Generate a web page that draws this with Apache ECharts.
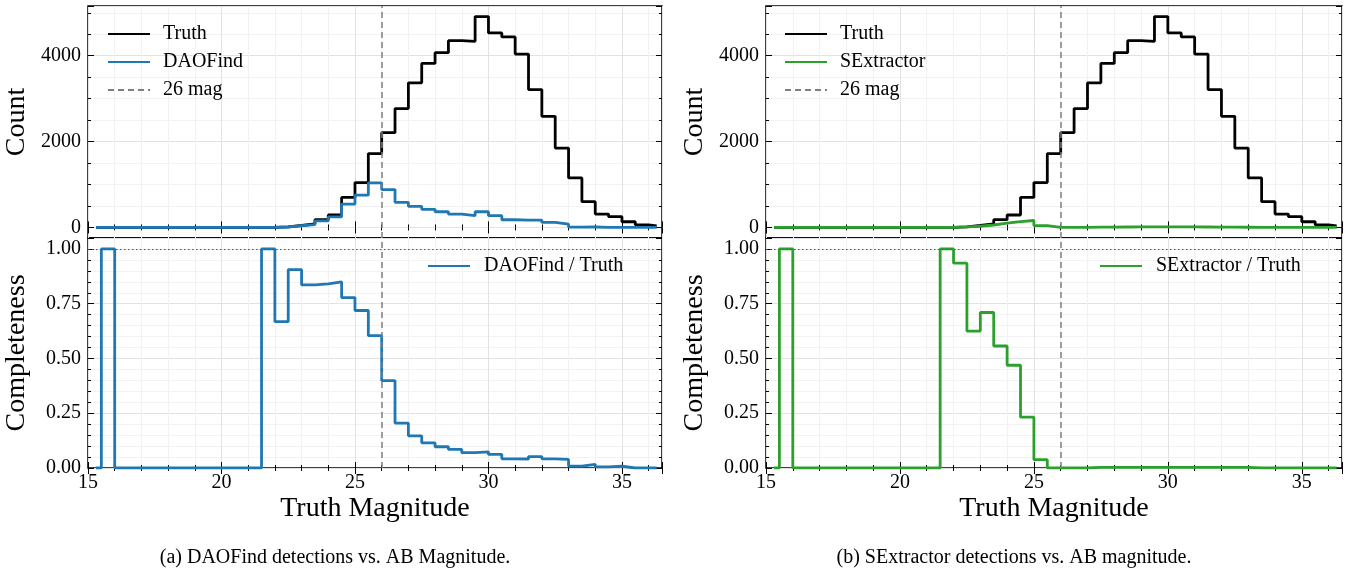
<!DOCTYPE html>
<html>
<head>
<meta charset="utf-8">
<script src="https://cdn.jsdelivr.net/npm/echarts@6/dist/echarts.min.js"></script>
<style>
  html, body { margin: 0; padding: 0; background: #fff; }
  #chart { width: 1348px; height: 569px; }
</style>
</head>
<body>
<div id="chart"></div>
<script>
  // bin edges of the magnitude histograms (first/last bins are partial)
  const magEdges = [15.3, 15.5, 16, 16.5, 17, 17.5, 18, 18.5, 19, 19.5, 20, 20.5, 21, 21.5,
    22, 22.5, 23, 23.5, 24, 24.5, 25, 25.5, 26, 26.5, 27, 27.5, 28, 28.5, 29, 29.5, 30,
    30.5, 31, 31.5, 32, 32.5, 33, 33.5, 34, 34.5, 35, 35.5, 36, 36.3]

  const truthCounts = [0, 1, 0, 0, 0, 0, 0, 0, 0, 0, 0, 0, 0,
    2, 15, 45, 80, 180, 290, 700, 1045, 1720, 2207, 2768, 3368, 3821, 4070, 4351, 4335,
    4912, 4530, 4437, 4039, 3212, 2589, 1848, 1154, 600, 312, 250, 133, 62, 39]

  const daoCounts = [0, 1, 0, 0, 0, 0, 0, 0, 0, 0, 0, 0, 0,
    2, 10, 41, 67, 151, 247, 545, 752, 1039, 881, 585, 491, 421, 366, 312, 273,
    366, 273, 179, 172, 172, 117, 78, 8, 10, 2, 2, 0, 0, 0]

  const daoComp = [0, 1, 0, 0, 0, 0, 0, 0, 0, 0, 0, 0, 0,
    1.0, 0.668, 0.906, 0.836, 0.841, 0.850, 0.778, 0.719, 0.604, 0.399, 0.205, 0.147,
    0.115, 0.097, 0.085, 0.070, 0.074, 0.062, 0.042, 0.041, 0.052, 0.042, 0.039, 0.009,
    0.017, 0.005, 0.008, 0, 0, 0]

  const sexCounts = [0, 1, 0, 0, 0, 0, 0, 0, 0, 0, 0, 0, 0,
    2, 14, 28, 57, 100, 136, 162, 40, 0, 0, 0, 8, 9, 10, 11, 11, 12, 11, 11, 10, 8, 6, 4,
    0, 0, 0, 0, 0, 0, 0]

  const sexComp = [0, 1, 0, 0, 0, 0, 0, 0, 0, 0, 0, 0, 0,
    1.0, 0.935, 0.625, 0.710, 0.557, 0.469, 0.232, 0.038, 0, 0, 0, 0.0025, 0.0025, 0.0025,
    0.0025, 0.0025, 0.0025, 0.0025, 0.0025, 0.0025, 0.0025, 0.0025, 0.0025,
    0, 0, 0, 0, 0, 0, 0]

  const cutMag = 26
  const xTicks = { min: 15, max: 36.5, interval: 5 }

  const FONT = "'Liberation Serif', 'DejaVu Serif', serif"

  function stepData(vals) {
    let d = vals.map((v, i) => [magEdges[i], v])
    d.push([magEdges[vals.length], vals[vals.length - 1]])
    return d
  }

  const panels = [
    { left: 88, width: 574, det: 'DAOFind', counts: daoCounts, comp: daoComp, color: '#1f77b4',
      caption: '(a) DAOFind detections vs. AB Magnitude.', capX: 335, legTopLeft: 102, legBotLeft: 422 },
    { left: 766, width: 576, det: 'SExtractor', counts: sexCounts, comp: sexComp, color: '#2ca02c',
      caption: '(b) SExtractor detections vs. AB magnitude.', capX: 1014, legTopLeft: 779, legBotLeft: 1094 }
  ]

  const tickStyle = { inside: true, length: 6, lineStyle: { color: '#000', width: 1 } }
  const minorTickStyle = { show: true, length: 3, lineStyle: { color: '#000', width: 1 } }
  const labelStyle = { fontFamily: FONT, fontSize: 20, color: '#000' }
  const nameStyle = { fontFamily: FONT, fontSize: 28, color: '#000' }
  const legendText = { fontFamily: FONT, fontSize: 20, color: '#000' }

  let grid = [], xAxis = [], yAxis = [], series = [], legend = [], graphic = []

  panels.forEach((p, k) => {
    const gTop = 2 * k, gBot = 2 * k + 1
    grid.push({ left: p.left, top: 6, width: p.width, height: 232, show: true, borderColor: '#000', borderWidth: 1.5 })
    grid.push({ left: p.left, top: 238, width: p.width, height: 230, show: true, borderColor: '#000', borderWidth: 1.5 })

    ;[gTop, gBot].forEach(g => {
      const isBot = g === gBot
      xAxis.push({
        gridIndex: g, type: 'value', position: 'bottom',
        min: xTicks.min, max: xTicks.max, interval: xTicks.interval,
        name: isBot ? 'Truth Magnitude' : '', nameLocation: 'middle', nameGap: 27, nameTextStyle: nameStyle,
        axisLine: { show: false },
        axisTick: tickStyle,
        minorTick: Object.assign({ splitNumber: 5 }, minorTickStyle),
        axisLabel: Object.assign({ show: isBot, margin: 5, showMaxLabel: false }, labelStyle),
        splitLine: { show: true, lineStyle: { color: '#e2e2e2', width: 1 } },
        minorSplitLine: { show: true, lineStyle: { color: '#f2f2f2', width: 1 } }
      })
      xAxis.push({
        gridIndex: g, type: 'value', position: 'top',
        min: xTicks.min, max: xTicks.max, interval: xTicks.interval,
        axisLine: { show: false },
        axisTick: tickStyle,
        minorTick: Object.assign({ splitNumber: 5 }, minorTickStyle),
        axisLabel: { show: false },
        splitLine: { show: false }
      })
    })

    // count axis: range with matplotlib-like margins, ticks every 2000
    const countAxis = {
      type: 'value', min: -246, max: 5158, minInterval: 2000, maxInterval: 2000, splitNumber: 3
    }
    const compAxis = { type: 'value', min: 0, max: 1.05, interval: 0.25 }

    yAxis.push(Object.assign({
      gridIndex: gTop, position: 'left',
      name: 'Count', nameLocation: 'middle', nameGap: 57, nameRotate: 90, nameTextStyle: nameStyle,
      axisLine: { show: false }, axisTick: tickStyle,
      minorTick: Object.assign({ splitNumber: 4 }, minorTickStyle),
      axisLabel: Object.assign({ margin: 7, showMinLabel: false, showMaxLabel: false, formatter: v => String(v) }, labelStyle),
      splitLine: { show: true, lineStyle: { color: '#e2e2e2', width: 1 } },
      minorSplitLine: { show: true, lineStyle: { color: '#f2f2f2', width: 1 } }
    }, countAxis))
    yAxis.push(Object.assign({
      gridIndex: gTop, position: 'right',
      axisLine: { show: false }, axisTick: tickStyle,
      minorTick: Object.assign({ splitNumber: 4 }, minorTickStyle),
      axisLabel: { show: false }, splitLine: { show: false }
    }, countAxis))
    yAxis.push(Object.assign({
      gridIndex: gBot, position: 'left',
      name: 'Completeness', nameLocation: 'middle', nameGap: 57, nameRotate: 90, nameTextStyle: nameStyle,
      axisLine: { show: false }, axisTick: tickStyle,
      minorTick: Object.assign({ splitNumber: 5 }, minorTickStyle),
      axisLabel: Object.assign({ margin: 7, showMaxLabel: false, formatter: v => v.toFixed(2) }, labelStyle),
      splitLine: { show: true, lineStyle: { color: '#e2e2e2', width: 1 } },
      minorSplitLine: { show: true, lineStyle: { color: '#f2f2f2', width: 1 } }
    }, compAxis))
    yAxis.push(Object.assign({
      gridIndex: gBot, position: 'right',
      axisLine: { show: false }, axisTick: tickStyle,
      minorTick: Object.assign({ splitNumber: 5 }, minorTickStyle),
      axisLabel: { show: false }, splitLine: { show: false }
    }, compAxis))

    const cutLine = {
      silent: true, symbol: ['none', 'none'], label: { show: false },
      lineStyle: { color: '#7f7f7f', type: [6, 4], width: 1.5 },
      data: [{ xAxis: cutMag }]
    }

    // top panel
    series.push({
      name: 'Truth', type: 'line', xAxisIndex: 2 * gTop, yAxisIndex: 2 * gTop,
      step: 'end', symbol: 'none', data: stepData(truthCounts),
      lineStyle: { color: '#000', width: 2.8 }, itemStyle: { color: '#000' }, z: 3
    })
    series.push({
      name: p.det, type: 'line', xAxisIndex: 2 * gTop, yAxisIndex: 2 * gTop,
      step: 'end', symbol: 'none', data: stepData(p.counts),
      lineStyle: { color: p.color, width: 2.8 }, itemStyle: { color: p.color }, z: 4
    })
    series.push({
      name: '26 mag', type: 'line', xAxisIndex: 2 * gTop, yAxisIndex: 2 * gTop,
      symbol: 'none', data: [],
      lineStyle: { color: '#7f7f7f', type: [6, 4], width: 1.5 }, itemStyle: { color: '#7f7f7f' },
      markLine: cutLine, z: 2
    })
    // bottom panel
    series.push({
      name: p.det + ' / Truth', type: 'line', xAxisIndex: 2 * gBot, yAxisIndex: 2 * gBot,
      step: 'end', symbol: 'none', data: stepData(p.comp),
      lineStyle: { color: p.color, width: 2.8 }, itemStyle: { color: p.color }, z: 4,
      markLine: {
        silent: true, symbol: ['none', 'none'], label: { show: false },
        lineStyle: { color: '#555', type: [1.5, 2.5], width: 1 },
        data: [{ yAxis: 1 }]
      }
    })
    series.push({
      name: 'cut' + k, type: 'line', xAxisIndex: 2 * gBot, yAxisIndex: 2 * gBot,
      symbol: 'none', data: [], markLine: cutLine, z: 2
    })

    legend.push({
      data: ['Truth', p.det, '26 mag'], orient: 'vertical', left: p.legTopLeft, top: 19,
      itemWidth: 42, itemHeight: 14, itemGap: 8, selectedMode: false,
      itemStyle: { opacity: 0 },
      textStyle: Object.assign({ padding: [0, 0, 0, 8] }, legendText)
    })
    legend.push({
      data: [p.det + ' / Truth'], orient: 'vertical', left: p.legBotLeft, top: 251,
      itemWidth: 42, itemHeight: 14, selectedMode: false,
      itemStyle: { opacity: 0 },
      textStyle: Object.assign({ padding: [0, 0, 0, 9] }, legendText)
    })

    graphic.push({
      type: 'text', x: p.capX, y: 548,
      style: { text: p.caption, font: '20px ' + FONT, fill: '#000', textAlign: 'center' }
    })
  })

  let myChart = echarts.init(document.getElementById('chart'))
  myChart.setOption({
    animation: false,
    backgroundColor: '#fff',
    grid: grid,
    xAxis: xAxis,
    yAxis: yAxis,
    legend: legend,
    series: series,
    graphic: graphic
  })
</script>
</body>
</html>
